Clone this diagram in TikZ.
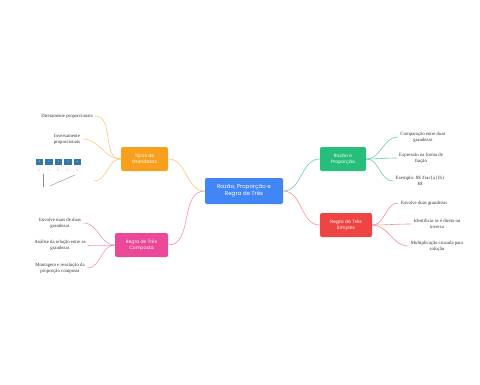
\documentclass[tikz,border=0pt]{standalone}
\usepackage{fontspec}
\setmainfont{Liberation Serif}
\newfontfamily\knotenfont{Poppins}
\usepackage{xcolor}
\definecolor{zentrum}{RGB}{66,133,244}
\definecolor{orangeast}{RGB}{247,160,30}
\definecolor{rosaast}{RGB}{236,72,153}
\definecolor{gruenast}{RGB}{38,190,122}
\definecolor{rotast}{RGB}{239,68,68}
\definecolor{kaestchen}{RGB}{52,120,170}

\begin{document}
\begin{tikzpicture}[x=1pt, y=-1pt,
    haupt/.style={draw=none, rounded corners=2pt, text=white, align=center,
      font=\knotenfont\fontsize{5.6}{7}\selectfont, inner sep=1pt},
    ast/.style={draw=none, rounded corners=2pt, text=white, align=center,
      font=\knotenfont\fontsize{4.6}{6}\selectfont, inner sep=1pt,
      minimum height=24pt},
    blatt/.style={align=center, text=black!80, inner sep=1pt, outer sep=1.5pt,
      font=\fontsize{4.8}{6}\selectfont},
    verb/.style={line width=0.6pt},
    font=\footnotesize]
    % Bildbereich
    \useasboundingbox (0,0) rectangle (480,384);
    % Zentrum
    \node[haupt, fill=zentrum, minimum width=78pt, minimum height=26pt] (zentrum) at (244,191)
      {Razão, Proporção e\\Regra de Três};
    % Hauptäste
    \node[ast, fill=orangeast, minimum width=47pt] (tipos) at (144.5,159) {Tipos de\\Grandezas};
    \node[ast, fill=rosaast, minimum width=53pt] (composta) at (141.5,245) {Regra de Três\\Composta};
    \node[ast, fill=gruenast, minimum width=46pt] (razao) at (343,159) {Razão e\\Proporção};
    \node[ast, fill=rotast, minimum width=52pt] (simples) at (346,225) {Regra de Três\\Simples};
    % Blätter links
    \node[blatt] (dir) at (67,116) {Diretamente proporcionais};
    \node[blatt] (inv) at (67,139) {Inversamente\\proporcionais};
    \node[blatt] (env3) at (60,223) {Envolve mais de duas\\grandezas};
    \node[blatt] (ana) at (60,245) {Análise da relação entre as\\grandezas};
    \node[blatt] (mon) at (60,268) {Montagem e resolução da\\proporção composta};
    % Blätter rechts
    \node[blatt] (comp) at (423,137) {Comparação entre duas\\grandezas};
    \node[blatt] (expr) at (421,158) {Expressão na forma de\\fração};
    \node[blatt] (exem) at (420,181) {Exemplo: \$\$ \textbackslash frac\{a\}\{b\}\\\$\$};
    \node[blatt] (env2) at (424,203) {Envolve duas grandezas};
    \node[blatt] (ident) at (437,224) {Identificar se é direta ou\\inversa};
    \node[blatt] (mult) at (437,246) {Multiplicação cruzada para\\solução};
    % kleines Bild
    \foreach \i in {0,...,4} {
      \node[fill=kaestchen, minimum width=7.5pt, minimum height=6pt, inner sep=0pt,
        text=white, font=\fontsize{2.5}{3}\selectfont] (k\i) at (39.5+9.5*\i,162) {\i};
      \node[text=black!50, inner sep=0pt, font=\fontsize{2.4}{3}\selectfont] at (39.5+9.5*\i,170) {x\textsubscript{\i}};
    }
    \draw[black!45, line width=0.4pt] (43,174) -- (43,187);
    \draw[black!45, line width=0.4pt] (50,186) -- (75,175);
    \coordinate (bild) at (94,181);
    % Verbindungen
    \draw[verb, orangeast!60] (zentrum.west) to[out=180,in=0] (tipos.east);
    \draw[verb, rosaast!60] (zentrum.west) to[out=180,in=0] (composta.east);
    \draw[verb, gruenast!70] (zentrum.east) to[out=0,in=180] (razao.west);
    \draw[verb, rotast!60] (zentrum.east) to[out=0,in=180] (simples.west);
    \foreach \z in {dir,inv} \draw[verb, orangeast!60] (tipos.west) to[out=180,in=0] (\z.east);
    \draw[verb, orangeast!60] (tipos.west) to[out=180,in=0] (bild);
    \foreach \z in {env3,ana,mon} \draw[verb, rosaast!60] (composta.west) to[out=180,in=0] (\z.east);
    \foreach \z in {comp,expr,exem} \draw[verb, gruenast!70] (razao.east) to[out=0,in=180] (\z.west);
    \foreach \z in {env2,ident,mult} \draw[verb, rotast!60] (simples.east) to[out=0,in=180] (\z.west);
\end{tikzpicture}
\end{document}
